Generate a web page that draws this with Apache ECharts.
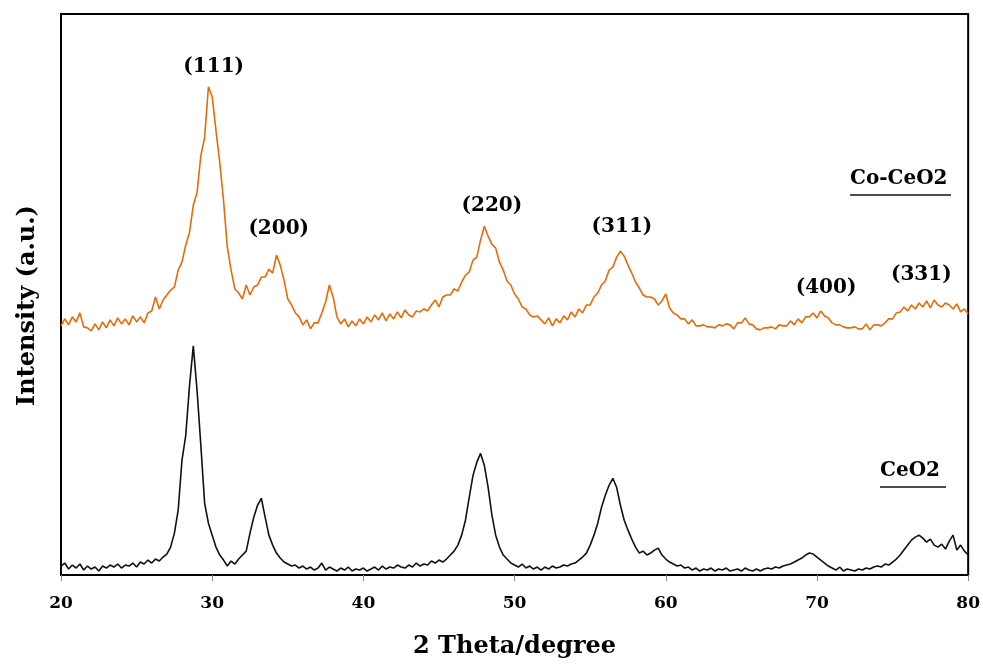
<!DOCTYPE html>
<html>
<head>
<meta charset="utf-8">
<script src="https://cdn.jsdelivr.net/npm/echarts@6/dist/echarts.min.js"></script>
<style>
html,body{margin:0;padding:0;background:#fff;}
#chart{width:983px;height:664px;}
</style>
</head>
<body>
<div id="chart"></div>
<script>
// 2θ sampling grid (degrees)
const thetaStart = 20;
const thetaStep = 0.25;
const xTicks = [20, 30, 40, 50, 60, 70, 80];

// Intensity (a.u.), one row per degree: 20.00, 20.25, 20.50, 20.75 ...
const ceo2 = [
  9,12,6,10,   7,11,5,9,    6,8,4,9,     7,10,8,11,   7,10,9,12,
  8,13,11,15,  12,16,14,18, 21,28,42,65, 115,140,190,230, 185,130,72,52,
  40,28,20,15, 9,14,11,16,  20,24,42,58, 70,77,58,40, 30,22,17,13,
  11,9,10,7,   9,6,8,5,     7,12,5,8,    6,4,7,5,     8,4,6,5,
  7,4,6,8,     5,9,6,8,     7,10,8,7,    10,8,12,9,   11,10,14,12,
  15,13,16,20, 24,30,40,55, 78,100,113,122, 110,88,60,40, 28,20,16,12,
  10,8,11,7,   9,6,8,5,     8,6,9,7,     8,10,9,11,   12,15,18,22,
  30,40,52,68, 80,90,97,88, 70,55,45,36, 28,22,24,20, 22,25,27,20,
  16,13,11,9,  10,7,8,5,    7,4,6,5,     7,4,6,5,     7,4,5,6,
  4,7,5,4,     6,4,6,7,     6,8,7,9,     10,11,13,15, 17,20,22,21,
  18,15,12,9,  7,5,8,4,     6,5,4,6,     5,7,6,8,     9,8,11,10,
  13,16,20,25, 30,35,38,40, 37,33,36,30, 28,31,26,34, 40,25,30,24,
  20
];
const coCeo2 = [
  250,257,251,259, 254,263,249,248, 245,252,246,254, 248,256,250,258, 252,257,251,260,
  254,259,253,263, 265,279,267,276, 281,286,289,306, 314,331,344,371, 384,421,439,490,
  480,446,414,376, 329,306,287,283, 277,291,281,289, 291,299,299,307, 303,321,311,296,
  277,271,263,259, 251,256,247,253, 253,263,274,291, 279,259,252,257, 249,255,250,257,
  252,259,254,261, 256,263,255,262, 257,264,258,266, 261,259,265,264, 267,265,271,276,
  269,279,281,281, 287,285,294,301, 304,316,319,336, 350,340,332,328, 314,306,295,291,
  282,277,269,267, 261,259,260,256, 252,258,250,257, 253,260,256,264, 259,267,263,271,
  271,279,283,291, 295,306,309,319, 325,320,311,303, 294,288,281,279, 279,277,271,275,
  282,268,263,261, 257,257,252,256, 250,250,251,249, 249,248,251,250, 252,251,247,253,
  253,258,252,251, 247,246,248,248, 249,247,251,250, 250,255,251,257, 253,259,259,263,
  258,265,260,258, 253,251,251,249, 248,248,249,247, 247,252,246,251, 251,250,253,257,
  257,263,264,269, 265,271,267,273, 269,275,268,276, 271,269,273,271, 267,272,264,267,
  262
];

// Miller index annotations: label, 2θ, intensity
const planeLabels = ['(111)', '(200)', '(220)', '(311)', '(400)', '(331)'];
const planeTheta  = [30.1, 34.4, 48.5, 57.1, 70.6, 76.9];
const planeInt    = [510, 347, 371, 349, 288, 301];

const seriesNames = ['CeO2', 'Co-CeO2'];

const toPairs = arr => arr.map((v, i) => [thetaStart + i * thetaStep, v]);

const FONT = "'DejaVu Serif','Liberation Serif',serif";
const chart = echarts.init(document.getElementById('chart'));
chart.setOption({
  animation: false,
  backgroundColor: '#fff',
  grid: { left: 61, right: 14, top: 14, bottom: 87, show: true, borderColor: '#000', borderWidth: 2 },
  xAxis: {
    type: 'value', min: 20, max: 80, interval: 10,
    name: '2 Theta/degree', nameLocation: 'middle', nameGap: 60,
    nameTextStyle: { fontFamily: FONT, fontWeight: 'bold', fontSize: 24, color: '#000' },
    axisLine: { show: true, lineStyle: { color: '#000', width: 2 } },
    axisTick: { show: true, inside: false, length: 6, lineStyle: { color: '#888', width: 1 } },
    axisLabel: { fontFamily: FONT, fontWeight: 'bold', fontSize: 17, color: '#000', margin: 20,
      formatter: v => xTicks.includes(v) ? String(v) : '' },
    splitLine: { show: false }
  },
  yAxis: {
    type: 'value', min: 0, max: 563,
    name: 'Intensity (a.u.)', nameLocation: 'middle', nameGap: 21, nameRotate: 90,
    nameTextStyle: { fontFamily: FONT, fontWeight: 'bold', fontSize: 24, color: '#000', padding: [0, 22, 0, 0] },
    axisLine: { show: true, lineStyle: { color: '#000', width: 2 } },
    axisTick: { show: false }, axisLabel: { show: false }, splitLine: { show: false }
  },
  series: [
    { name: seriesNames[0], type: 'line', data: toPairs(ceo2), showSymbol: false,
      lineStyle: { color: '#111', width: 1.6 }, z: 3 },
    { name: seriesNames[1], type: 'line', data: toPairs(coCeo2), showSymbol: false,
      lineStyle: { color: '#E46C0A', width: 1.6 }, z: 3 },
    { type: 'scatter', symbolSize: 0, silent: true, itemStyle: { opacity: 1 },
      data: planeLabels.map((l, i) => ({ value: [planeTheta[i], planeInt[i]], name: l })),
      label: { show: true, position: 'inside', formatter: p => p.name, opacity: 1,
        fontFamily: FONT, fontWeight: 'bold', fontSize: 20, color: '#000', textBorderWidth: 0 } }
  ],
  graphic: [
    { type: 'text', left: 850, top: 169, style: { text: 'Co-CeO2', font: "bold 20px 'DejaVu Serif'", fill: '#000' } },
    { type: 'line', shape: { x1: 850, y1: 195, x2: 951, y2: 195 }, style: { stroke: '#111', lineWidth: 1.5 } },
    { type: 'text', left: 880, top: 461, style: { text: 'CeO2', font: "bold 20px 'DejaVu Serif'", fill: '#000' } },
    { type: 'line', shape: { x1: 880, y1: 487, x2: 946, y2: 487 }, style: { stroke: '#111', lineWidth: 1.5 } }
  ]
});
</script>
</body>
</html>
